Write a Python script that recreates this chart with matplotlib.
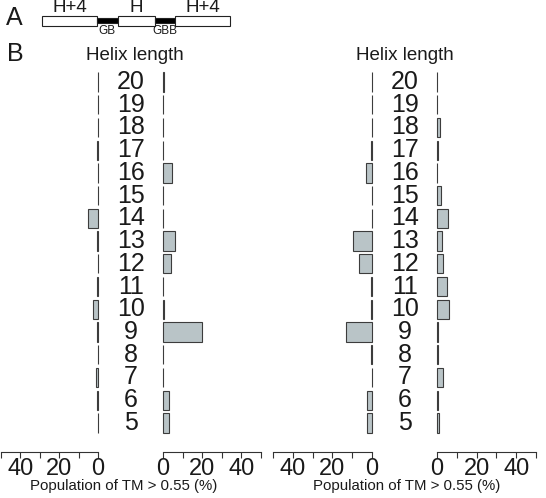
#!/usr/bin/env python
"""Helix length distributions: population of TM > 0.55 (%) per helix length."""

import matplotlib.pyplot as plt
from matplotlib.patches import Rectangle
from matplotlib.transforms import blended_transform_factory

plt.rcParams['font.family'] = ['Liberation Sans', 'DejaVu Sans']

# Data
helix_lengths = [20, 19, 18, 17, 16, 15, 14, 13, 12, 11, 10, 9, 8, 7, 6, 5]

panel1_left = [0, 0, 0, 0.5, 0, 0, 5.0, 0.3, 0, 0.3, 2.5, 0.3, 0, 1.0, 0.5, 0]
panel1_right = [0.3, 0, 0, 0, 4.5, 0, 0, 6.0, 4.0, 0, 0.3, 20.0, 0, 0, 3.0, 3.0]
panel2_left = [0, 0, 0, 0.5, 3.0, 0, 0, 9.7, 6.7, 0.3, 0.5, 13.0, 0.5, 0, 2.3, 2.5]
panel2_right = [0, 0, 1.5, 0.3, 0, 1.8, 5.6, 2.4, 3.2, 5.0, 6.3, 0.3, 0.3, 2.9, 0.3, 1.2]

tick_values = [0, 10, 20, 30, 40, 50]
tick_labels = ['0', '', '20', '', '40', '']

W, H = 546, 498
BAR_FACE = '#b9c4c7'
BAR_EDGE = '#3c3c3c'
TEXT_COLOR = '#1a1a1a'


def fx(px):
    return px / W


def fy(py):
    return 1 - py / H


fig = plt.figure(figsize=(W / 100, H / 100), dpi=100)

AX_TOP, AX_BOTTOM = 70, 452


def make_axes(x0, x1, values, mirrored):
    ax = fig.add_axes([fx(x0), fy(AX_BOTTOM), (x1 - x0) / W, (AX_BOTTOM - AX_TOP) / H])
    bars = ax.barh(helix_lengths, values, height=0.85, color=BAR_FACE,
                   edgecolor=BAR_EDGE, linewidth=0.8)
    for b in bars:
        b.set_clip_on(False)
    ax.set_ylim(3.72, 20.53)
    if mirrored:
        ax.set_xlim(50, 0)
    else:
        ax.set_xlim(0, 50)
    ax.set_xticks(tick_values)
    ax.set_xticklabels(tick_labels, fontsize=17, color=TEXT_COLOR)
    ax.tick_params(axis='x', direction='out', length=4, width=0.8,
                   color='#333333', pad=0)
    ax.set_yticks([])
    for side in ['top', 'left', 'right']:
        ax.spines[side].set_visible(False)
    ax.spines['bottom'].set_linewidth(0.8)
    ax.spines['bottom'].set_color('#333333')
    ax.patch.set_alpha(0)
    return ax


ax1l = make_axes(1, 98, panel1_left, True)
ax1r = make_axes(163, 261, panel1_right, False)
ax2l = make_axes(273, 372, panel2_left, True)
ax2r = make_axes(437, 536, panel2_right, False)

# Helix length labels between the mirrored axes
for ax, cx in [(ax1l, 131), (ax2l, 405)]:
    trans = blended_transform_factory(fig.transFigure, ax.transData)
    for n in helix_lengths:
        ax.text(fx(cx), n, str(n), transform=trans, ha='center', va='center',
                fontsize=18, color=TEXT_COLOR, clip_on=False)

# Titles and axis labels
for cx in [135, 405]:
    fig.text(fx(cx), fy(56), 'Helix length', ha='center', va='center',
             fontsize=13.5, color=TEXT_COLOR)
for cx in [124, 407]:
    fig.text(fx(cx), fy(486), 'Population of TM > 0.55 (%)', ha='center',
             va='center', fontsize=10.8, color=TEXT_COLOR)

fig.text(fx(15), fy(54), 'B', ha='center', va='center', fontsize=18, color=TEXT_COLOR)
fig.text(fx(14), fy(18), 'A', ha='center', va='center', fontsize=18, color=TEXT_COLOR)

# Panel A: segment diagram
segments = [
    (42, 97, 'white', 10, 'H+4'),
    (97, 118, 'black', 5, ''),
    (118, 155, 'white', 10, 'H'),
    (155, 175, 'black', 5, ''),
    (175, 230, 'white', 10, 'H+4'),
]
for x0, x1, color, hpx, label in segments:
    yc = 21
    fig.patches.append(Rectangle((fx(x0), fy(yc + hpx / 2)), (x1 - x0) / W, hpx / H,
                                 transform=fig.transFigure, facecolor=color,
                                 edgecolor='#222222', linewidth=0.8))
    if label:
        fig.text(fx((x0 + x1) / 2), fy(8), label, ha='center', va='center',
                 fontsize=13.5, color=TEXT_COLOR)
fig.text(fx(107), fy(31), 'GB', ha='center', va='center', fontsize=8.5, color=TEXT_COLOR)
fig.text(fx(165), fy(31), 'GBB', ha='center', va='center', fontsize=8.5, color=TEXT_COLOR)

fig.savefig('out.png', dpi=100)
